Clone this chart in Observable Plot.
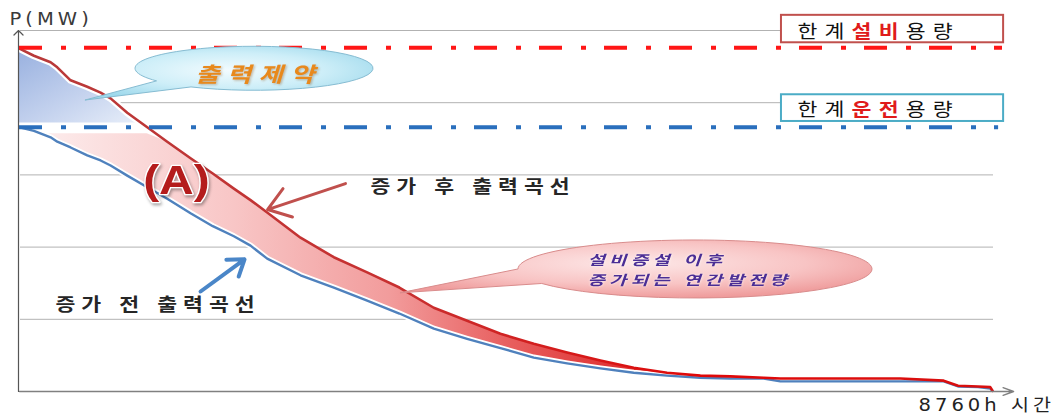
<!DOCTYPE html>
<html lang="ko">
<head>
<meta charset="utf-8">
<script src="https://cdn.jsdelivr.net/npm/d3@7"></script>
<script src="https://cdn.jsdelivr.net/npm/@observablehq/plot@0.6"></script>
<style>
  html, body { margin: 0; padding: 0; background: #fff; }
  #chart svg { display: block; }
  text[aria-label="region-mark"] { filter: drop-shadow(1px 2px 1.5px rgba(0,0,0,0.35)); }
  text[aria-label="constraint-text"] { filter: drop-shadow(1px 1px 1px rgba(120,60,0,0.35)); }
  text[aria-label="callout-text"] { filter: drop-shadow(0 0 1px rgba(255,255,255,0.9)); }
</style>
</head>
<body>
<div id="chart"></div>
<script>
// Load duration curve over one year (8760 h), sorted from highest to lowest output.
const hours = [0, 130, 280, 340, 460, 610, 730, 820, 970, 1150, 1330, 1540, 1740, 1930, 2080, 2230,
  2530, 2830, 3130, 3420, 3730, 4030, 4330, 4630, 4930, 5230, 5530, 5830, 6130, 6400, 6700, 6850,
  7300, 7930, 8320, 8450, 8630, 8740, 8760];
// 증가 전 출력곡선 (output before the capacity increase)
const outputBefore = [3.66, 3.61, 3.52, 3.46, 3.38, 3.27, 3.20, 3.13, 2.99, 2.83, 2.67, 2.47, 2.29, 2.15,
  2.02, 1.84, 1.61, 1.44, 1.26, 1.08, 0.87, 0.73, 0.60, 0.47, 0.39, 0.32, 0.26, 0.22, 0.19, 0.18,
  0.18, 0.14, 0.14, 0.14, 0.14, 0.07, 0.06, 0.04, 0.01];
// 증가 후 출력곡선 (output after the capacity increase)
const outputAfter = [4.75, 4.65, 4.56, 4.49, 4.31, 4.22, 4.14, 4.06, 3.86, 3.66, 3.46, 3.23, 3.02, 2.81,
  2.65, 2.48, 2.13, 1.86, 1.65, 1.44, 1.16, 0.98, 0.80, 0.66, 0.54, 0.43, 0.33, 0.26, 0.22, 0.21,
  0.19, 0.18, 0.18, 0.18, 0.15, 0.08, 0.07, 0.06, 0.01];
const gridLevels = [1, 2, 3, 4, 5];
const designLimit = 4.76;     // 한계설비용량
const operatingLimit = 3.66;  // 한계운전용량
const constraintBase = 3.72;  // lower edge of the 출력제약 zone
const gainCap = 3.57;         // upper edge of the added-generation band (A)
const limitKeys = ["설비", "운전"];
const gainLines = ["설비증설 이후", "증가되는 연간발전량"];

const curve = hours.map((h, i) => ({hour: h, before: outputBefore[i], after: outputAfter[i]}));

// Annotation placement (data units)
const limitBoxes = [
  {key: limitKeys[0], x1: 6860, x2: 8860, y1: 4.83, y2: 5.21, tx: 7004, ty: 4.90, stroke: "#c0504d"},
  {key: limitKeys[1], x1: 6860, x2: 8860, y1: 3.74, y2: 4.11, tx: 7004, ty: 3.82, stroke: "#4bacc6"}
];
const tag = name => () => name;   // per-element aria-label, used to find texts after rendering

const chart = Plot.plot({
  width: 1063,
  height: 417,
  marginTop: 30,
  marginRight: 71,
  marginBottom: 26,
  marginLeft: 19,
  style: {background: "#fff", overflow: "visible"},
  x: {domain: [0, 8760], axis: null},
  y: {domain: [0, 5], axis: null},
  marks: [
    Plot.ruleY(gridLevels, {x1: 0, x2: 8760, stroke: "#b2b2b2", strokeWidth: 1, dx: 1}),
    // 출력제약: output above the operating limit that had to be curtailed
    Plot.areaY(curve.filter(d => d.hour <= 1150), {
      x: "hour", y1: constraintBase, y2: d => Math.max(d.after, constraintBase),
      fill: "url(#constraintFill)"
    }),
    // (A): added annual generation between the two curves
    Plot.areaY(curve, {
      x: "hour", y1: d => Math.min(d.before, gainCap), y2: d => Math.min(d.after, gainCap),
      fill: "url(#gainFill)"
    }),
    Plot.line(curve.filter(d => d.hour <= 1150), {x: "hour", y: "after", stroke: "#fff", strokeWidth: 7}),
    Plot.line(curve, {x: "hour", y: "before", stroke: "#fff", strokeWidth: 6}),
    Plot.line(curve, {x: "hour", y: "before", stroke: "#4f81bd", strokeWidth: 2.4}),
    Plot.line(curve, {x: "hour", y: "after", stroke: "url(#afterStroke)", strokeWidth: 2.6}),
    Plot.ruleY([designLimit], {x1: 0, x2: 8850, stroke: "#ff1616", strokeWidth: 4, strokeDasharray: "23 19 5 18"}),
    Plot.ruleY([operatingLimit], {x1: 0, x2: 8815, stroke: "#2a6fbd", strokeWidth: 4, strokeDasharray: "23 19 5 18"}),
    // axes
    Plot.arrow([0], {x1: 0, y1: 0, x2: 8950, y2: 0, stroke: "#808080", strokeWidth: 1.4, headLength: 12, headAngle: 40}),
    Plot.arrow([0], {x1: 0, y1: 0, x2: 0, y2: 5.0, dx: -1, stroke: "#555", strokeWidth: 1.2, headLength: 8, headAngle: 90}),
    // limit boxes
    Plot.rect(limitBoxes, {x1: "x1", x2: "x2", y1: "y1", y2: "y2", fill: "#fff", stroke: d => d.stroke, strokeWidth: 2}),
    Plot.text(limitBoxes, {x: "tx", y: "ty", text: d => "한계" + d.key + "용량", textAnchor: "start", lineAnchor: "bottom",
      fontSize: 18, fontFamily: "Noto Sans CJK KR", fill: "#111", ariaLabel: tag("limit-label")}),
    // pointer arrows
    Plot.arrow([0], {x1: 2935, y1: 2.88, x2: 2233, y2: 2.52, stroke: "#c0504d", strokeWidth: 3, headLength: 13, headAngle: 70}),
    Plot.arrow([0], {x1: 1630, y1: 1.385, x2: 2026, y2: 1.83, stroke: "#4a86c8", strokeWidth: 4, headLength: 14, headAngle: 70}),
    // labels
    Plot.text(["P(MW)"], {x: -90, y: 5.07, text: d => d, textAnchor: "start", lineAnchor: "bottom",
      fontSize: 17, fontFamily: "DejaVu Sans", fill: "#3a3a3a", ariaLabel: tag("y-title")}),
    Plot.text(["8760h 시간"], {x: 8094, y: -0.275, text: d => d, textAnchor: "start", lineAnchor: "bottom",
      fontSize: 17, fontFamily: "DejaVu Sans, Noto Sans CJK KR", fill: "#222", ariaLabel: tag("x-title")}),
    Plot.text(["증가 후 출력곡선"], {x: 3160, y: 2.756, text: d => d, textAnchor: "start", lineAnchor: "bottom",
      fontSize: 18, fontFamily: "Noto Sans CJK KR", fontWeight: "bold", fill: "#262626", ariaLabel: tag("curve-label")}),
    Plot.text(["증가 전 출력곡선"], {x: 324, y: 1.12, text: d => d, textAnchor: "start", lineAnchor: "bottom",
      fontSize: 18, fontFamily: "Noto Sans CJK KR", fontWeight: "bold", fill: "#262626", ariaLabel: tag("curve-label")}),
    Plot.text(["(A)"], {x: 1413, y: 2.74, text: d => d, textAnchor: "middle", lineAnchor: "bottom",
      fontSize: 40, fontWeight: "bold", fontFamily: "Liberation Sans", fill: "#b41c1c", stroke: "#fff",
      strokeWidth: 2.5, paintOrder: "stroke", ariaLabel: tag("region-mark")}),
    Plot.text(["출력제약"], {x: 2152, y: 4.29, text: d => d, textAnchor: "middle", lineAnchor: "bottom",
      fontSize: 21, fontWeight: "bold", fontStyle: "italic", fontFamily: "Noto Sans CJK KR", fill: "#e8891c",
      ariaLabel: tag("constraint-text")}),
    Plot.text([gainLines.join("\n")], {x: 5114, y: 1.48, text: d => d, textAnchor: "start", lineAnchor: "bottom",
      lineHeight: 1.45, fontSize: 13.5, fontWeight: "bold", fontStyle: "italic", fontFamily: "Noto Sans CJK KR",
      fill: "#4b2e95", ariaLabel: tag("callout-text")})
  ]
});

document.getElementById("chart").appendChild(chart);

const svg = d3.select(chart);
const sx = chart.scale("x"), sy = chart.scale("y");
const X = v => sx.apply(v), Y = v => sy.apply(v);
const markOf = label => chart.querySelector(`text[aria-label="${label}"]`)?.parentNode ?? null;

// gradients referenced by the marks above
const defs = svg.insert("defs", ":first-child");
function gradient(kind, id, attrs, stops) {
  const g = defs.append(kind).attr("id", id);
  for (const [k, v] of Object.entries(attrs)) g.attr(k, v);
  for (const [o, c] of stops) g.append("stop").attr("offset", o).attr("stop-color", c);
}
gradient("linearGradient", "gainFill", {gradientUnits: "userSpaceOnUse", x1: X(0), y1: 0, x2: X(8760), y2: 0},
  [[0, "#fdf0f0"], [0.22, "#f8c6c6"], [0.38, "#f29c9c"], [0.5, "#e86060"], [0.65, "#dc2626"], [1, "#cc0000"]]);
gradient("linearGradient", "constraintFill", {x1: 0, y1: 0, x2: 1, y2: 1},
  [[0, "#98b0df"], [0.55, "#c4d2ee"], [1, "#eaf0fa"]]);
gradient("linearGradient", "afterStroke", {gradientUnits: "userSpaceOnUse", x1: X(0), y1: 0, x2: X(8760), y2: 0},
  [[0, "#b83a3a"], [0.4, "#c83030"], [0.7, "#e00808"], [1, "#d81010"]]);
gradient("radialGradient", "cyanBubble", {cx: "50%", cy: "45%", r: "60%"},
  [[0, "#f2fbfe"], [0.55, "#cdeef8"], [1, "#9fd9ec"]]);
gradient("radialGradient", "pinkBubble", {cx: "50%", cy: "40%", r: "60%"},
  [[0, "#fde8e8"], [0.6, "#f8c4c4"], [1, "#ef9c9c"]]);

// speech bubbles behind the callout texts
function bubblePath(cx, cy, rx, ry, tipX, tipY, a1, a2) {
  const p = t => [cx + rx * Math.cos(t * Math.PI / 180), cy + ry * Math.sin(t * Math.PI / 180)];
  const [x1, y1] = p(a1), [x2, y2] = p(a2);
  return `M${x1},${y1}L${tipX},${tipY}L${x2},${y2}A${rx},${ry} 0 1 0 ${x1},${y1}Z`;
}
function addBubble(beforeLabel, d, fill, stroke) {
  const before = markOf(beforeLabel);
  const path = document.createElementNS("http://www.w3.org/2000/svg", "path");
  chart.insertBefore(path, before);
  d3.select(path).attr("d", d).attr("fill", fill).attr("stroke", stroke).attr("stroke-width", 1);
}
addBubble("constraint-text", bubblePath(X(2116), Y(4.47), 119, 22, X(594), Y(4.03), 145, 122),
  "url(#cyanBubble)", "#86bcd2");
addBubble("callout-text", bubblePath(X(6086), Y(1.69), 177, 29, X(3430), Y(1.36), 180, 150),
  "url(#pinkBubble)", "#d98c8c");

// two-colour labels inside the limit boxes
svg.selectAll('text[aria-label="limit-label"]').each(function(_, i) {
  const t = d3.select(this);
  t.text(null);
  t.append("tspan").text("한계");
  t.append("tspan").attr("fill", "#e01b1b").attr("font-weight", "bold").text(limitBoxes[i].key);
  t.append("tspan").text("용량");
});

// wide lettering
function stretch(label, k, spacing) {
  svg.selectAll(`text[aria-label="${label}"]`).each(function() {
    const t = this.getAttribute("transform") || "";
    this.setAttribute("transform", `${t} scale(${k},1)`);
    this.style.letterSpacing = spacing + "px";
  });
}
stretch("limit-label", 1.2, 6);
stretch("y-title", 1.15, 3.5);
stretch("x-title", 1.15, 3.5);
stretch("curve-label", 1.2, 5);
stretch("region-mark", 1.2, 0);
stretch("constraint-text", 1.25, 6);
stretch("callout-text", 1.4, 3);
</script>
</body>
</html>
